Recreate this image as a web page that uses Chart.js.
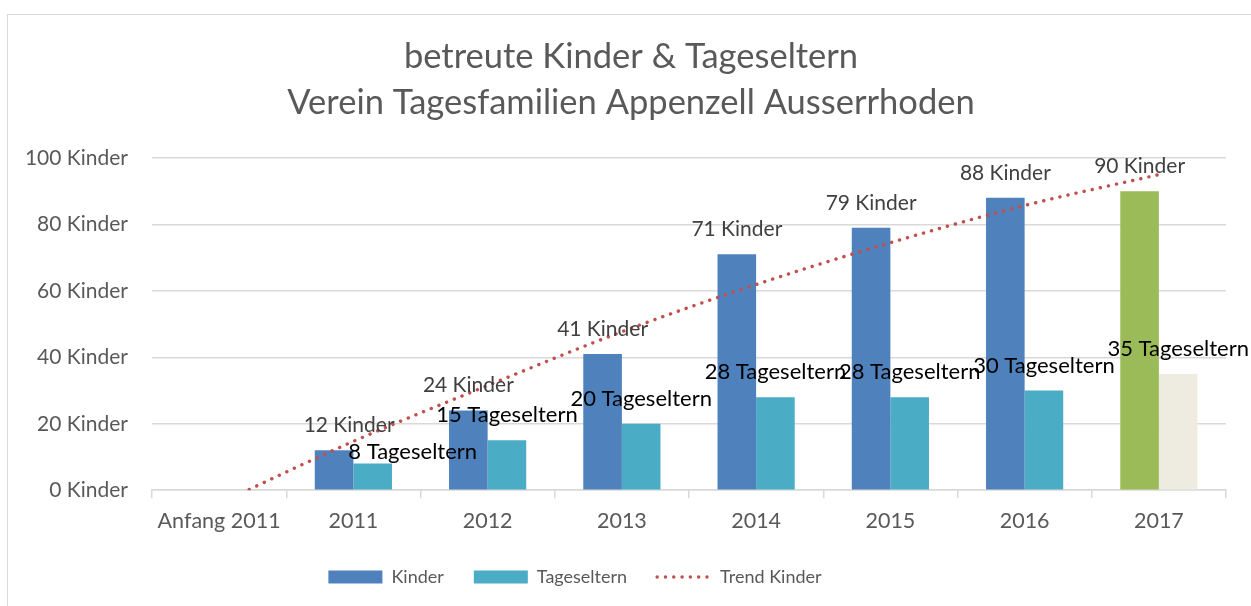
<!DOCTYPE html>
<html lang="de">
<head>
    <meta charset="UTF-8">
    <title>betreute Kinder & Tageseltern</title>
    <script src="https://cdn.jsdelivr.net/npm/chart.js"></script>
    <style>
        body { margin: 0; background: #fff; overflow: hidden; }
        .wrap { position: relative; width: 1251px; height: 606px; overflow: hidden; }
        .frame {
            position: absolute; left: 7px; top: 14px; width: 1300px; height: 700px;
            border: 1px solid #d9d9d9;
        }
        canvas { position: absolute; left: 0; top: 0; }
    </style>
</head>
<body>
<div class="wrap">
    <div class="frame"></div>
    <canvas id="chart" width="1251" height="606"></canvas>
</div>
<script>
    // Data
    const categories = ['Anfang 2011', '2011', '2012', '2013', '2014', '2015', '2016', '2017'];
    const kinder = [null, 12, 24, 41, 71, 79, 88, 90];
    const tageseltern = [null, 8, 15, 20, 28, 28, 30, 35];
    const trendKinder = [-4, 14.7, 31.5, 47.7, 61.9, 74.5, 85.7, 95];
    const yTicks = [0, 20, 40, 60, 80, 100];

    const FONT = 'Lato, "Open Sans", sans-serif';
    const GREY = '#595959';
    const last = categories.length - 1;

    // value labels above bars
    const barLabels = {
        id: 'barLabels',
        afterDatasetsDraw(chart) {
            const ctx = chart.ctx;
            ctx.save();
            ctx.textAlign = 'center';
            ctx.textBaseline = 'middle';
            [0, 1].forEach(di => {
                const meta = chart.getDatasetMeta(di);
                const values = chart.data.datasets[di].data;
                ctx.font = (di === 0 ? '21px ' : '22px ') + FONT;
                meta.data.forEach((bar, i) => {
                    if (values[i] == null) return;
                    let dx = 0, dy = -25;
                    // the 2011 labels were moved by hand in the original
                    if (i === 1) { dx = di === 0 ? 15 : 40; dy = di === 0 ? -25 : -12; }
                    const text = values[i] + (di === 0 ? ' Kinder' : ' Tageseltern');
                    ctx.fillStyle = di === 0 ? '#404040' : '#000000';
                    ctx.fillText(text, bar.x + dx, bar.y + dy);
                });
            });
            ctx.restore();
        }
    };

    // title and legend are not centred on the canvas in the original
    const nudge = {
        id: 'nudge',
        afterLayout(chart) {
            const t = chart.titleBlock, l = chart.legend;
            t.left += 18; t.right += 18;
            l.left -= 38; l.right -= 38;
            l.top -= 6; l.bottom -= 6;
        }
    };

    const chart = new Chart(document.getElementById('chart'), {
        data: {
            labels: categories,
            datasets: [
                {
                    type: 'bar',
                    label: 'Kinder',
                    data: kinder,
                    backgroundColor: c => c.dataIndex === last ? '#9BBB59' : '#4F81BD',
                    order: 1
                },
                {
                    type: 'bar',
                    label: 'Tageseltern',
                    data: tageseltern,
                    backgroundColor: c => c.dataIndex === last ? '#EEECE1' : '#4BACC6',
                    order: 2
                },
                {
                    type: 'line',
                    label: 'Trend Kinder',
                    data: trendKinder,
                    borderColor: '#C0504D',
                    borderWidth: 3.4,
                    borderDash: [0.1, 8.2],
                    borderCapStyle: 'round',
                    pointRadius: 0,
                    cubicInterpolationMode: 'monotone',
                    fill: false,
                    order: 0
                }
            ]
        },
        options: {
            responsive: false,
            animation: false,
            layout: { padding: { left: 0, right: 25, top: 0, bottom: 4 } },
            datasets: {
                bar: { barPercentage: 1.0, categoryPercentage: 0.575 }
            },
            plugins: {
                title: {
                    display: true,
                    text: ['betreute Kinder & Tageseltern', 'Verein Tagesfamilien Appenzell Ausserrhoden'],
                    color: GREY,
                    font: { family: FONT, size: 34.5, weight: 'normal', lineHeight: 1.333 },
                    padding: { top: 34, bottom: 32 }
                },
                legend: {
                    position: 'bottom',
                    labels: {
                        color: GREY,
                        font: { family: FONT, size: 18 },
                        boxWidth: 54,
                        boxHeight: 13,
                        padding: 30,
                        usePointStyle: true,
                        pointStyleWidth: 54,
                        sort: (a, b) => a.datasetIndex - b.datasetIndex,
                        generateLabels(ch) {
                            const items = Chart.defaults.plugins.legend.labels.generateLabels(ch);
                            items.forEach(it => {
                                if (it.datasetIndex === 0) { it.pointStyle = 'rect'; it.fillStyle = '#4F81BD'; it.strokeStyle = '#4F81BD'; it.lineWidth = 0; }
                                if (it.datasetIndex === 1) { it.pointStyle = 'rect'; it.fillStyle = '#4BACC6'; it.strokeStyle = '#4BACC6'; it.lineWidth = 0; }
                                if (it.datasetIndex === 2) { it.pointStyle = 'line'; it.strokeStyle = '#C0504D'; it.lineWidth = 3.4; it.lineDash = [0.1, 8.2]; it.lineCap = 'round'; }
                            });
                            return items;
                        }
                    }
                },
                tooltip: { enabled: false }
            },
            scales: {
                x: {
                    grid: { drawOnChartArea: false, drawTicks: true, tickLength: 8, color: '#d9d9d9', lineWidth: 1.5 },
                    border: { display: true, color: '#d9d9d9', width: 1.5 },
                    ticks: { color: GREY, font: { family: FONT, size: 21.5 }, padding: 10 }
                },
                y: {
                    min: 0,
                    max: 100,
                    afterBuildTicks: s => { s.ticks = yTicks.map(v => ({ value: v })); },
                    afterFit: s => { s.width = 152; },
                    grid: { color: '#d9d9d9', lineWidth: 1.5, drawTicks: false },
                    border: { display: false },
                    ticks: {
                        color: GREY,
                        font: { family: FONT, size: 21 },
                        padding: 24,
                        callback: v => v + ' Kinder'
                    }
                }
            }
        },
        plugins: [barLabels, nudge]
    });
</script>
</body>
</html>
